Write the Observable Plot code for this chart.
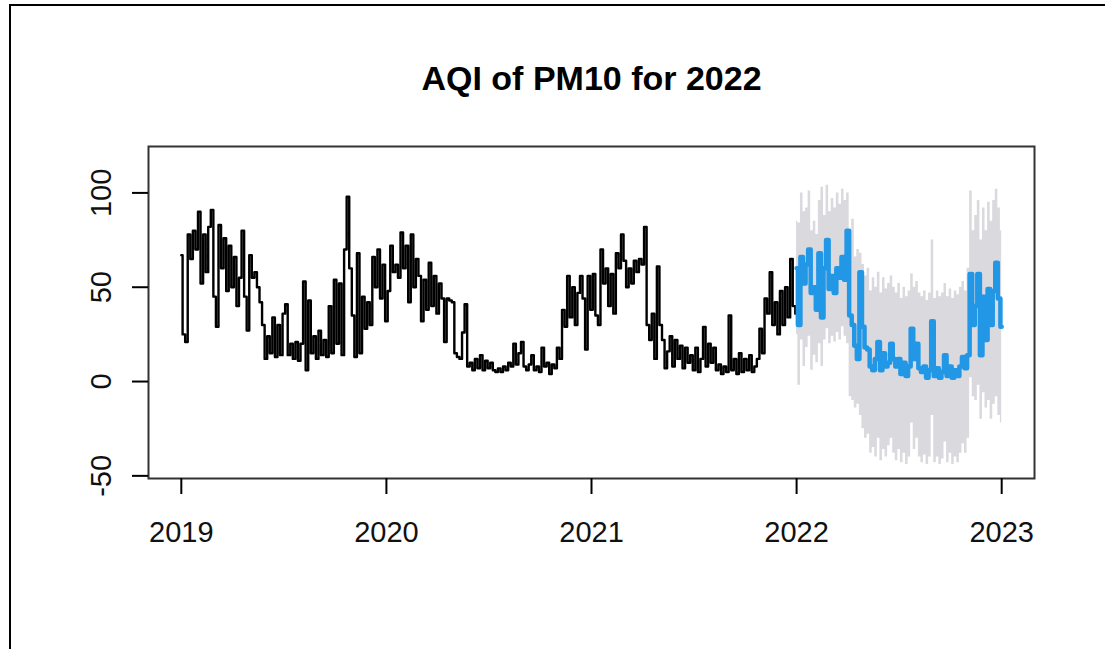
<!DOCTYPE html>
<html><head><meta charset="utf-8">
<script src="https://cdn.jsdelivr.net/npm/d3@7"></script>
<script src="https://cdn.jsdelivr.net/npm/@observablehq/plot@0.6"></script>
<style>
html,body{margin:0;padding:0;background:#fff;}
#wrap{position:relative;width:1105px;height:649px;overflow:hidden;background:#fff;}
#border{position:absolute;left:9px;top:4px;width:1200px;height:800px;border-left:2px solid #000;border-top:2px solid #000;}
#chart{position:absolute;left:0;top:0;}
</style></head><body>
<div id="wrap"><div id="border"></div><div id="chart"></div></div>
<script>
const title = "AQI of PM10 for 2022";
const historyStart = 2019;
const forecastStart = 2022;
const step = 1 / 80; // years between stored readings
const historyValues = [
  67,25,21,78,65,80,70,90,52,78, 58,82,91,45,29,83,60,76,48,72,
  50,66,40,55,80,45,27,67,55,58, 50,42,30,12,24,15,34,13,30,14,
  36,41,14,20,12,21,11,20,53,6, 43,15,24,12,27,14,22,13,
  40,15,54,20,52,14,70,98,60,35, 13,68,15,45,28,42,30,66,50,70, 44,62,32,
  48,72,58,62,55,79,60,72,42,78, 50,65,56,32,54,38,63,40,56,36,
  52,44,21,44,43,42,15,13,12,26, 41,8,10,6,12,7,14,6,11,7, 10,6,5,7,5,8,6,10,
  8,20,9,15,21,8,6,9,14,6, 8,5,18,8,10,4,9,7,18,12,
  38,29,56,34,50,30,47,56,44,17, 56,38,57,35,30,70,52,60,40,57,
  36,68,60,78,64,50,60,52,64,58, 65,62,82,30,22,36,12,61,30,22,
  7,16,24,8,22,12,19,7,18,10,
  14,6,18,5,12,29,8,20,10,18, 6,9,4,8,5,35,6,12,4,15,
  5,12,6,14,5,8,12,28,15,44, 36,58,30,42,25,48,30,50,34,65, 40,36
];
const forecastMean = [
  60,30,66,52,62,70,47,50,38,68, 34,60,75,49,56,47,60,55,66,54,
  80,35,30,19,12,58,29,18,17,8, 6,12,21,6,15,8,10,20,12,8,
  12,4,10,3,8,28,12,20,7,5, 8,2,6,32,3,7,2,5,14,3,
  8,2,6,3,8,13,7,14,57,30, 40,57,14,45,22,49,30,48,63,44, 29
];
const forecastUpper = [
  85,84,100,90,92,101,80,85,78,96, 103,88,104,90,97,92,100,94,102,96,
  100,75,86,66,70,68,62,56,60,48, 55,50,58,47,55,49,52,56,50,47,
  52,44,50,45,48,57,50,53,47,45, 48,43,47,75,44,48,45,47,52,45,
  49,44,48,46,50,53,48,60,101,80, 88,96,75,92,80,95,85,96,102,92, 80
];
const forecastLower = [
  25,-2,22,8,18,24,6,14,10,20, 8,22,28,20,24,21,26,22,29,24,
  20,-8,-10,-14,-12,-18,-25,-30,-28,-38, -35,-40,-30,-42,-36,-40,-34,-30,-38,-42,
  -36,-43,-38,-44,-40,-22,-36,-30,-40,-43, -39,-44,-40,-18,-43,-40,-44,-41,-32,-43,
  -38,-44,-40,-43,-38,-33,-38,-30,2,-8, -10,-2,-20,-6,-14,-10,-20,-12,-8,-18, -22
];
const xTicks = [2019, 2020, 2021, 2022, 2023];
const yTicks = [-50, 0, 50, 100];

const hist = historyValues.map((v, i) => ({t: historyStart + i * step, v}));
const fc = forecastMean.map((v, i) => ({t: forecastStart + i * step, v, lo: forecastLower[i], hi: forecastUpper[i]}));

const font = "'Liberation Sans', Arial, Helvetica, sans-serif";
const plot = Plot.plot({
  width: 1105, height: 649,
  marginLeft: 148, marginRight: 71, marginTop: 146, marginBottom: 171,
  style: {fontFamily: font, background: "transparent", overflow: "visible", color: "#000"},
  x: {domain: [2018.84, 2023.16], label: null},
  y: {domain: [-51.4, 124.6], label: null},
  marks: [
    Plot.areaY(fc, {x: "t", y1: "lo", y2: "hi", fill: "#D9D9DE", curve: "step"}),
    Plot.line(hist, {x: "t", y: "v", stroke: "#000", strokeWidth: 2.4, curve: "step"}),
    Plot.line(fc, {x: "t", y: "v", stroke: "#2297E6", strokeWidth: 4.5, curve: "step"}),
    Plot.frame({stroke: "#333", strokeWidth: 2}),
    Plot.axisX({ticks: xTicks, tickFormat: d => String(d), label: null, tickSize: 16, tickPadding: 27, fontSize: 29, strokeWidth: 2, stroke: "#000", fill: "#111"}),
    Plot.axisY({ticks: yTicks, tickFormat: d => String(d), label: null, tickRotate: -90, tickSize: 16, tickPadding: 22, fontSize: 29, strokeWidth: 2, stroke: "#000", fill: "#111"}),
    Plot.text([title], {text: d => d, frameAnchor: "top", dy: -57, lineAnchor: "bottom", fontSize: 34, fontWeight: "bold", fill: "#000"})
  ]
});
document.getElementById("chart").appendChild(plot);
</script>
</body></html>
